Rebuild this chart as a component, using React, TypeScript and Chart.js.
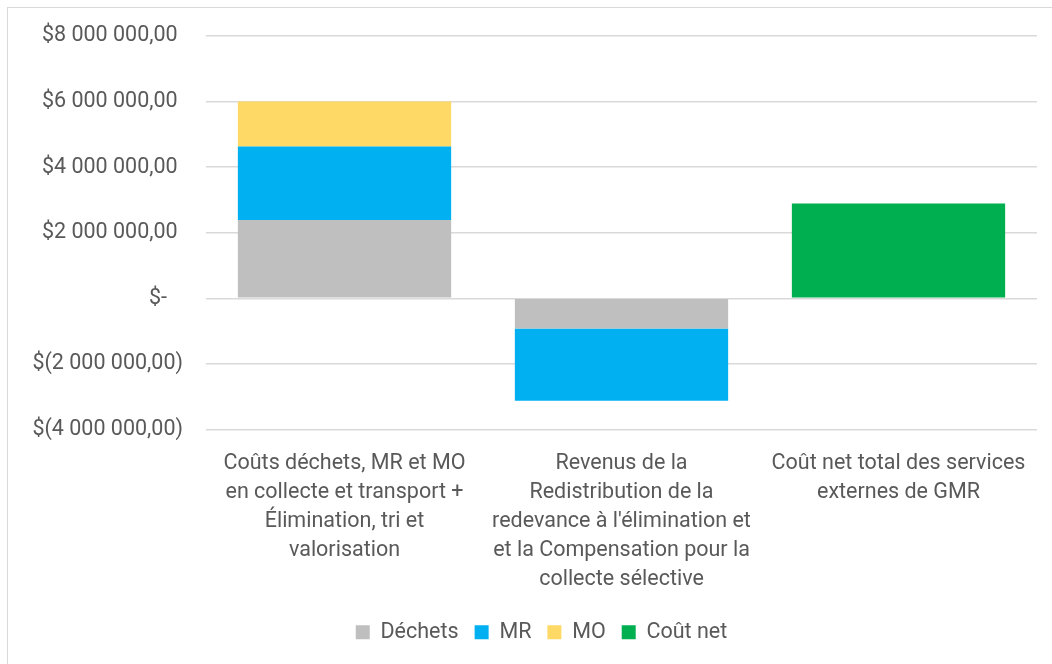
import React, { useEffect, useRef } from "react";
import { Chart, registerables } from "chart.js";

Chart.register(...registerables);

const categories: string[][] = [
  ["Coûts déchets, MR et MO", "en collecte et transport +", "Élimination, tri et", "valorisation"],
  ["Revenus de la", "Redistribution de la", "redevance à l'élimination et", "et la Compensation pour la", "collecte sélective"],
  ["Coût net total des services", "externes de GMR"],
];

const dechets = [2390000, -920000, null];
const mr = [2240000, -2200000, null];
const mo = [1370000, null, null];
const coutNet = [null, null, 2890000];

const yTicks = [-4000000, -2000000, 0, 2000000, 4000000, 6000000, 8000000];
const yTickLabels = [
  "$(4 000 000,00)",
  "$(2 000 000,00)",
  "$-   ",
  "$2 000 000,00 ",
  "$4 000 000,00 ",
  "$6 000 000,00 ",
  "$8 000 000,00 ",
];

const TEXT = "#595959";
const FONT = "Roboto";

const legendShift = {
  id: "legendShift",
  afterLayout(chart: any) {
    const lg = chart.legend;
    if (lg) {
      lg.left += 19;
      lg.right += 19;
    }
  },
};

export default function App() {
  const ref = useRef<HTMLCanvasElement | null>(null);

  useEffect(() => {
    if (!ref.current) return;
    const chart = new Chart(ref.current, {
      type: "bar",
      data: {
        labels: categories,
        datasets: [
          { label: "Déchets", data: dechets, backgroundColor: "#BFBFBF" },
          { label: "MR", data: mr, backgroundColor: "#00B0F0" },
          { label: "MO", data: mo, backgroundColor: "#FFD966" },
          { label: "Coût net", data: coutNet, backgroundColor: "#00B050" },
        ],
      },
      plugins: [legendShift],
      options: {
        animation: false,
        responsive: false,
        maintainAspectRatio: false,
        datasets: { bar: { categoryPercentage: 1, barPercentage: 0.77 } },
        layout: { padding: { left: 0, right: 15, top: 28, bottom: 11 } },
        plugins: {
          tooltip: { enabled: false },
          legend: {
            position: "bottom",
            labels: {
              boxWidth: 14,
              boxHeight: 14,
              padding: 16,
              color: TEXT,
              font: { family: FONT, size: 21.5 },
            },
          },
        },
        scales: {
          x: {
            stacked: true,
            grid: { display: false, drawTicks: false },
            border: { display: false },
            ticks: {
              color: TEXT,
              font: { family: FONT, size: 21.5, lineHeight: 1.35 },
              padding: 20,
              maxRotation: 0,
              minRotation: 0,
              autoSkip: false,
            },
            afterFit: (s: any) => {
              s.height = 176;
            },
          },
          y: {
            stacked: true,
            min: -4000000,
            max: 8000000,
            grid: { color: "#D9D9D9", lineWidth: 1.5, drawTicks: false },
            border: { display: false },
            afterBuildTicks: (s: any) => {
              s.ticks = yTicks.map((v) => ({ value: v }));
            },
            ticks: {
              color: TEXT,
              font: { family: FONT, size: 21.5 },
              padding: 23,
              callback: (v: any) => {
                const i = yTicks.indexOf(Number(v));
                return i >= 0 ? yTickLabels[i] : "";
              },
            },
            afterFit: (s: any) => {
              s.width = 198;
              s.paddingTop = 0;
              s.paddingBottom = 0;
            },
          },
        },
      },
    });
    return () => chart.destroy();
  }, []);

  return (
    <div
      style={{
        position: "fixed",
        left: 7,
        top: 7,
        width: 1044,
        height: 656,
        borderLeft: "1px solid #D9D9D9",
        borderTop: "1px solid #D9D9D9",
        background: "#fff",
      }}
    >
      <canvas ref={ref} width={1044} height={656} style={{ display: "block" }} />
    </div>
  );
}
